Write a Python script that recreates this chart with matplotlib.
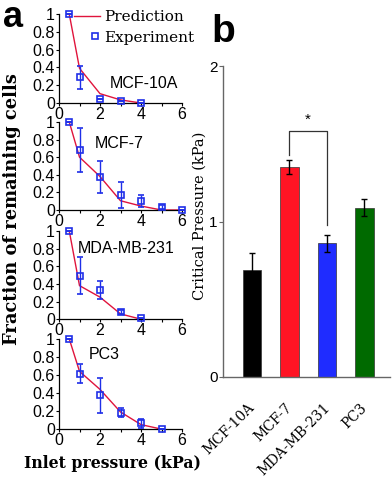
import matplotlib
matplotlib.use("Agg")
import numpy as np
import matplotlib.pyplot as plt
from matplotlib.lines import Line2D
from matplotlib.legend_handler import HandlerLine2D

# ---------------- data ----------------
cell_lines = ["MCF-10A", "MCF-7", "MDA-MB-231", "PC3"]

x_10a = [0.5, 1, 2, 3, 4]
exp_10a = [1.0, 0.29, 0.04, 0.02, 0.0]
err_10a = [0.0, 0.13, 0.0, 0.0, 0.0]
pred_10a = [1.0, 0.39, 0.105, 0.035, 0.0]

x_mcf7 = [0.5, 1, 2, 3, 4, 5, 6]
exp_mcf7 = [1.0, 0.68, 0.375, 0.17, 0.10, 0.035, 0.0]
err_mcf7 = [0.0, 0.25, 0.185, 0.145, 0.07, 0.02, 0.0]
pred_mcf7 = [1.0, 0.60, 0.38, 0.105, 0.045, 0.0, 0.0]

x_mda = [0.5, 1, 2, 3, 4]
exp_mda = [1.0, 0.49, 0.33, 0.08, 0.01]
err_mda = [0.0, 0.21, 0.105, 0.02, 0.0]
pred_mda = [1.0, 0.38, 0.25, 0.06, 0.0]

x_pc3 = [0.5, 1, 2, 3, 4, 5]
exp_pc3 = [1.0, 0.615, 0.375, 0.18, 0.065, 0.0]
err_pc3 = [0.0, 0.105, 0.195, 0.05, 0.05, 0.0]
pred_pc3 = [1.0, 0.64, 0.44, 0.19, 0.05, 0.0]

bar_labels = ["MCF-10A", "MCF-7", "MDA-MB-231", "PC3"]
bar_values = [0.69, 1.35, 0.86, 1.09]
bar_err = [0.11, 0.045, 0.055, 0.055]
bar_colors = ["#000000", "#ff1424", "#1f2cff", "#006a00"]

# ---------------- figure ----------------
fig = plt.figure(figsize=(3.92, 4.8), dpi=100)

sans = "Liberation Sans"
serif = "DejaVu Serif"
pred_color = "#e0143c"
exp_color = "#1f2fe8"


class RightMarkerHandler(HandlerLine2D):
    def get_xdata(self, legend, xdescent, ydescent, width, height, fontsize):
        x = np.array([-xdescent + 0.8 * width])
        return x, x


panels = [
    (x_10a, exp_10a, err_10a, pred_10a, 0.7854, 0.9708, (0.41, 0.22)),
    (x_mcf7, exp_mcf7, err_mcf7, pred_mcf7, 0.5625, 0.746, (0.29, 0.76)),
    (x_mda, exp_mda, err_mda, pred_mda, 0.335, 0.519, (0.155, 0.80)),
    (x_pc3, exp_pc3, err_pc3, pred_pc3, 0.106, 0.294, (0.24, 0.83)),
]

left_a = 59 / 392
width_a = (182 - 59) / 392
for i, (xs, ex, er, pr, b, t, lab) in enumerate(panels):
    ax = fig.add_axes([left_a, b, width_a, t - b])
    ax.plot(xs, pr, color=pred_color, lw=1.0, zorder=2)
    ax.errorbar(xs, ex, yerr=er, fmt="s", mfc="none", mec=exp_color, mew=1.2,
                ms=5, ecolor=exp_color, elinewidth=1.0, capsize=2, capthick=1.0,
                zorder=3)
    ax.set_xlim(0, 6)
    ax.set_ylim(0, 1)
    ax.set_xticks([0, 2, 4, 6])
    ax.set_xticks([1, 3, 5], minor=True)
    ax.set_yticks([0, 0.2, 0.4, 0.6, 0.8, 1.0])
    ax.set_yticklabels(["0", "0.2", "0.4", "0.6", "0.8", "1"])
    for sp in ["top", "right"]:
        ax.spines[sp].set_visible(False)
    for sp in ["left", "bottom"]:
        ax.spines[sp].set_linewidth(0.9)
    ax.tick_params(axis="both", which="major", direction="out", length=2.5,
                   width=0.8, pad=0.5, labelsize=11.5)
    ax.tick_params(axis="x", which="minor", direction="out", length=2, width=0.8)
    for tl in ax.get_xticklabels() + ax.get_yticklabels():
        tl.set_fontfamily(sans)
    ax.text(lab[0], lab[1], cell_lines[i], transform=ax.transAxes,
            fontsize=11.5, fontfamily=sans, va="center", ha="left")
    for art in ax.get_children():
        try:
            art.set_clip_on(False)
        except Exception:
            pass
    if i == 0:
        h1 = Line2D([], [], color=pred_color, lw=1.0)
        h2 = Line2D([], [], ls="none", marker="s", mfc="none", mec=exp_color,
                    mew=1.2, ms=5)
        ax.legend([h1, h2], ["Prediction", "Experiment"], loc="upper left",
                  bbox_to_anchor=(0.013, 1.2), frameon=False, handlelength=1.65,
                  handletextpad=0.3, labelspacing=0.45, numpoints=1,
                  handler_map={h2: RightMarkerHandler(numpoints=1)},
                  prop={"family": serif, "size": 11})

fig.text(113 / 392, 1 - 463 / 480, "Inlet pressure (kPa)", ha="center",
         va="center", fontsize=11.3, fontweight="bold", fontfamily=serif)
fig.text(12 / 392, 1 - 209 / 480, "Fraction of remaining cells", ha="center",
         va="center", rotation=90, fontsize=12.9, fontweight="bold",
         fontfamily=serif)
fig.text(3 / 392, 1 - 27 / 480, "a", ha="left", va="baseline", fontsize=26,
         fontweight="bold", fontfamily=sans)

# ---------------- panel b ----------------
axb = fig.add_axes([223 / 392, 1 - 377 / 480, (390 - 223) / 392,
                    (377 - 66) / 480])
pos = list(range(len(bar_values)))
axb.bar(pos, bar_values, width=0.5, color=bar_colors, edgecolor="#333333",
        linewidth=0.5, zorder=2)
axb.errorbar(pos, bar_values, yerr=bar_err, fmt="none", ecolor="black",
             elinewidth=1.0, capsize=2, capthick=1.0, zorder=3)
axb.set_xlim(-0.77, 3.68)
axb.set_ylim(0, 2)
axb.set_yticks([0, 1, 2])
# label anchors sit slightly right of the bar centres (as in the reference)
axb.set_xticks([p + 0.15 for p in pos])
axb.set_xticklabels(bar_labels, rotation=45, ha="right", va="top",
                    fontfamily=serif, fontsize=10)
for sp in ["top", "right"]:
    axb.spines[sp].set_visible(False)
for sp in ["left", "bottom"]:
    axb.spines[sp].set_color("#666666")
    axb.spines[sp].set_linewidth(1.0)
axb.tick_params(axis="x", length=0, pad=17)
axb.tick_params(axis="y", length=3, width=0.8, color="#666666", pad=1,
                labelsize=11)
for tl in axb.get_yticklabels():
    tl.set_fontfamily(sans)
fig.text(200 / 392, 1 - 216 / 480, "Critical Pressure (kPa)", ha="center",
         va="center", rotation=90, fontfamily=serif, fontsize=10.5)

# significance bracket between MCF-7 and MDA-MB-231
bracket_y = 1.58
axb.plot([1, 1, 2, 2], [1.43, bracket_y, bracket_y, 0.98], color="#333333",
         lw=0.9)
axb.text(1.5, bracket_y + 0.03, "*", ha="center", va="bottom", fontsize=11,
         fontfamily=sans)

fig.text(211 / 392, 1 - 42 / 480, "b", ha="left", va="baseline", fontsize=28,
         fontweight="bold", fontfamily=sans)

fig.savefig("out.png", dpi=100)
